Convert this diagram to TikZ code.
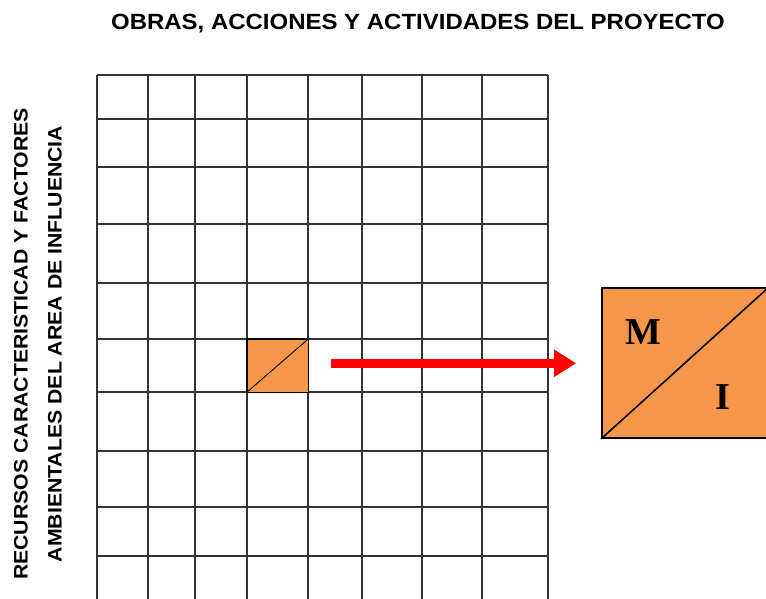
\documentclass[tikz,border=0pt]{standalone}
\usepackage{fontspec}
\setmainfont{Liberation Serif}
\newfontfamily\headfont[FakeStretch=1.09]{Liberation Sans}
\usetikzlibrary{arrows.meta,positioning}
\definecolor{cellorange}{RGB}{245,150,72}
\tikzset{
    gridline/.style={line width=1.7pt,black!80},
    heading/.style={font=\headfont\bfseries\fontsize{22}{26}\selectfont},
    sideheading/.style={font=\headfont\bfseries\fontsize{19.5}{34}\selectfont,
                        align=center,rotate=90},
    markcell/.style={draw=black,fill=cellorange,line width=1.6pt,
                     minimum width=61.6pt,minimum height=53.3pt,inner sep=0pt},
    bigcell/.style={draw=black,fill=cellorange,line width=1.8pt,
                    minimum width=166pt,minimum height=150pt,inner sep=0pt},
    pointer/.style={red,line width=8.5pt,-{Triangle[length=22pt,width=26pt]}}
}

\begin{document}
\begin{tikzpicture}[x=1pt,y=-1pt]
  \useasboundingbox (0,0) rectangle (766,599);

  % matrix grid
  \foreach \xx in {97.3,147.7,195.3,246.7,308.3,361.7,421.7,481.7,547.7}
    \draw[gridline] (\xx,75) -- (\xx,600);
  \foreach \yy in {75,119,166.7,224.3,283.3,339,392.3,451,506.7,555.7}
    \draw[gridline] (97.3,\yy) -- (547.7,\yy);

  \node[heading] (title) at (418,24) {OBRAS, ACCIONES Y ACTIVIDADES DEL PROYECTO};
  \node[sideheading] (rowlabel) at (38,344)
    {RECURSOS CARACTERISTICAD Y FACTORES\\AMBIENTALES DEL AREA DE INFLUENCIA};

  % marked cell and its enlargement
  \node[markcell] (cell) at (277.5,365.65) {};
  \draw[line width=0.9pt] (cell.south west) -- (cell.north east);

  \node[bigcell] (detail) at (685,363) {};
  \draw[line width=1.6pt] (detail.south west) -- (detail.north east);
  \node[font=\bfseries\fontsize{38}{40}\selectfont] at (643,332) {M};
  \node[font=\bfseries\fontsize{38}{40}\selectfont] at (723,397) {I};

  \draw[pointer] (cell.east |- 0,363.3) ++(22,0) coordinate (from)
        (from) -- ([xshift=-25pt]detail.west |- from);

\end{tikzpicture}
\end{document}
